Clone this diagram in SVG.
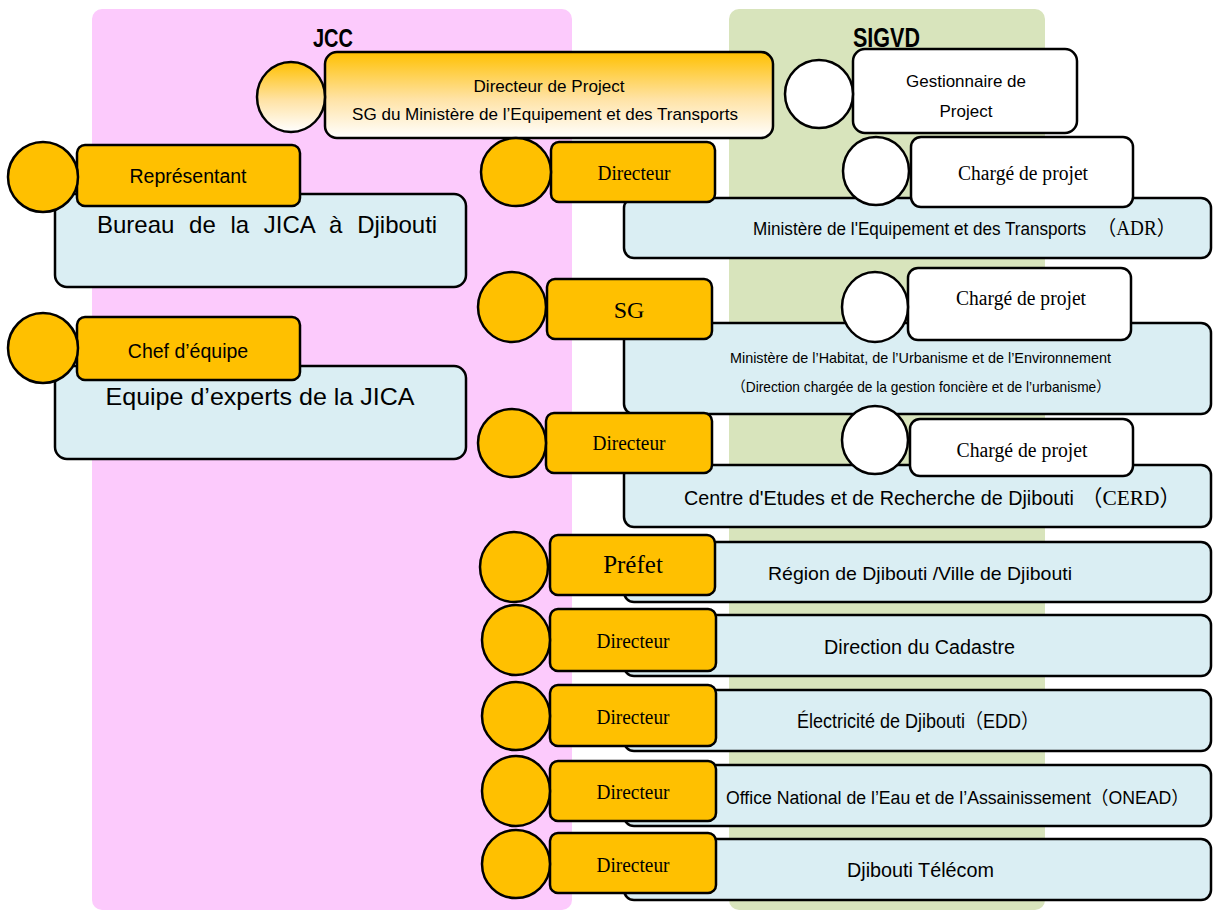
<svg xmlns="http://www.w3.org/2000/svg" width="1213" height="911" viewBox="0 0 1213 911">
<defs>
<linearGradient id="gradTop" x1="0" y1="0" x2="0" y2="1">
<stop offset="0" stop-color="#FFC000"/>
<stop offset="0.55" stop-color="#FFE3A6"/>
<stop offset="1" stop-color="#FFFFFF"/>
</linearGradient>
<style>
.ln{stroke:#000;stroke-width:2.5}
.or{fill:#FFC000}
.bl{fill:#DAEEF3}
.wh{fill:#FFFFFF}
.gr{fill:url(#gradTop)}
.sans{font-family:"Liberation Sans",Arial,"Noto Sans CJK JP",sans-serif;fill:#000}
.serif{font-family:"Liberation Serif","Times New Roman","Noto Sans CJK JP",serif;fill:#000}
.title{font-family:"Liberation Sans",Arial,sans-serif;font-weight:bold;fill:#000}
</style>
</defs>
<rect width="1213" height="911" fill="#FFFFFF"/>
<g id="panels">
<rect x="92" y="9" width="480" height="901" rx="10" fill="#FCCAFC"/>
<rect x="729" y="9" width="316" height="901" rx="10" fill="#D8E4BC"/>
<text class="title" x="313" y="47" font-size="26" textLength="40" lengthAdjust="spacingAndGlyphs">JCC</text>
<text class="title" x="853" y="47" font-size="27" textLength="67" lengthAdjust="spacingAndGlyphs">SIGVD</text>
</g>
<g id="directeur-project">
<rect class="ln gr" x="325" y="52" width="448" height="86" rx="12"/>
<ellipse class="ln gr" cx="291" cy="97" rx="34" ry="35"/>
<text class="sans" x="549" y="92" font-size="17" text-anchor="middle" textLength="151" lengthAdjust="spacingAndGlyphs">Directeur de Project</text>
<text class="sans" x="545" y="120" font-size="17" text-anchor="middle" textLength="386" lengthAdjust="spacingAndGlyphs">SG du Ministère de l’Equipement et des Transports</text>
</g>
<g id="gestionnaire">
<rect class="ln wh" x="853" y="49" width="224" height="84" rx="12"/>
<circle class="ln wh" cx="819" cy="94" r="34"/>
<text class="sans" x="966" y="87" font-size="17" text-anchor="middle">Gestionnaire de</text>
<text class="sans" x="966" y="117" font-size="17" text-anchor="middle">Project</text>
</g>
<g id="bureau-jica">
<rect class="ln bl" x="55" y="194" width="411" height="93" rx="12"/>
<rect class="ln or" x="77" y="145" width="223" height="61" rx="8"/>
<circle class="ln or" cx="43" cy="177" r="35"/>
<text class="sans" x="188" y="183" font-size="19.5" text-anchor="middle">Représentant</text>
<text class="sans" x="97" y="233" font-size="24" word-spacing="8">Bureau de la JICA à Djibouti</text>
</g>
<g id="equipe-jica">
<rect class="ln bl" x="55" y="366" width="411" height="93" rx="12"/>
<rect class="ln or" x="77" y="317" width="223" height="63" rx="8"/>
<circle class="ln or" cx="43" cy="348" r="35"/>
<text class="sans" x="188" y="358" font-size="19.5" text-anchor="middle">Chef d’équipe</text>
<text class="sans" x="260" y="405" font-size="24" text-anchor="middle" textLength="309" lengthAdjust="spacingAndGlyphs">Equipe d’experts de la JICA</text>
</g>
<g id="adr">
<rect class="ln bl" x="624" y="198" width="587" height="60" rx="10"/>
<rect class="ln or" x="551" y="142" width="164" height="60" rx="8"/>
<ellipse class="ln or" cx="516" cy="172" rx="35" ry="34"/>
<rect class="ln wh" x="911" y="137" width="222" height="70" rx="10"/>
<ellipse class="ln wh" cx="876" cy="171" rx="33" ry="34"/>
<text class="serif" x="634" y="180" font-size="20" text-anchor="middle" textLength="73" lengthAdjust="spacingAndGlyphs">Directeur</text>
<text class="serif" x="1023" y="180" font-size="20" text-anchor="middle" textLength="130" lengthAdjust="spacingAndGlyphs">Chargé de projet</text>
<text class="sans" x="753" y="235" font-size="17.5" textLength="333" lengthAdjust="spacingAndGlyphs">Ministère de l'Equipement et des Transports</text>
<text class="serif" x="1097" y="235" font-size="20" textLength="79" lengthAdjust="spacingAndGlyphs">（ADR）</text>
</g>
<g id="muhe">
<rect class="ln bl" x="624" y="323" width="587" height="91" rx="10"/>
<rect class="ln or" x="547" y="279" width="165" height="60" rx="8"/>
<ellipse class="ln or" cx="512" cy="307" rx="34" ry="35"/>
<rect class="ln wh" x="908" y="268" width="223" height="72" rx="10"/>
<ellipse class="ln wh" cx="875" cy="307" rx="33" ry="35"/>
<text class="serif" x="629" y="318" font-size="24" text-anchor="middle">SG</text>
<text class="serif" x="1021" y="305" font-size="20" text-anchor="middle" textLength="130" lengthAdjust="spacingAndGlyphs">Chargé de projet</text>
<text class="sans" x="730" y="363" font-size="14.5" textLength="381" lengthAdjust="spacingAndGlyphs">Ministère de l’Habitat, de l’Urbanisme et de l’Environnement</text>
<text class="sans" x="732" y="392" font-size="14.5" textLength="378" lengthAdjust="spacingAndGlyphs">（Direction chargée de la gestion foncière et de l’urbanisme）</text>
</g>
<g id="cerd">
<rect class="ln bl" x="624" y="465" width="587" height="62" rx="10"/>
<rect class="ln or" x="546" y="413" width="166" height="60" rx="8"/>
<ellipse class="ln or" cx="512" cy="443" rx="34" ry="34"/>
<rect class="ln wh" x="910" y="419" width="223" height="57" rx="10"/>
<ellipse class="ln wh" cx="875" cy="440" rx="33" ry="34"/>
<text class="serif" x="629" y="450" font-size="20" text-anchor="middle" textLength="73" lengthAdjust="spacingAndGlyphs">Directeur</text>
<text class="serif" x="1022" y="457" font-size="20" text-anchor="middle" textLength="131" lengthAdjust="spacingAndGlyphs">Chargé de projet</text>
<text class="sans" x="684" y="505" font-size="19.5" textLength="390" lengthAdjust="spacingAndGlyphs">Centre d'Etudes et de Recherche de Djibouti</text>
<text class="serif" x="1081" y="505" font-size="22" textLength="100" lengthAdjust="spacingAndGlyphs">（CERD）</text>
</g>
<g id="region">
<rect class="ln bl" x="624" y="542" width="587" height="60" rx="10"/>
<rect class="ln or" x="550" y="535" width="165" height="60" rx="8"/>
<ellipse class="ln or" cx="514" cy="567" rx="34" ry="35"/>
<text class="serif" x="633" y="573" font-size="25" text-anchor="middle">Préfet</text>
<text class="sans" x="768" y="580" font-size="19" textLength="304" lengthAdjust="spacingAndGlyphs">Région de Djibouti /Ville de Djibouti</text>
</g>
<g id="cadastre">
<rect class="ln bl" x="624" y="615" width="587" height="61" rx="10"/>
<rect class="ln or" x="550" y="609" width="166" height="62" rx="8"/>
<ellipse class="ln or" cx="516" cy="640" rx="34" ry="35"/>
<text class="serif" x="633" y="648" font-size="20" text-anchor="middle" textLength="73" lengthAdjust="spacingAndGlyphs">Directeur</text>
<text class="sans" x="824" y="654" font-size="20" textLength="191" lengthAdjust="spacingAndGlyphs">Direction du Cadastre</text>
</g>
<g id="edd">
<rect class="ln bl" x="624" y="690" width="587" height="61" rx="10"/>
<rect class="ln or" x="550" y="685" width="166" height="61" rx="8"/>
<ellipse class="ln or" cx="516" cy="716" rx="34" ry="34"/>
<text class="serif" x="633" y="724" font-size="20" text-anchor="middle" textLength="73" lengthAdjust="spacingAndGlyphs">Directeur</text>
<text class="sans" x="797" y="728" font-size="20" textLength="242" lengthAdjust="spacingAndGlyphs">Électricité de Djibouti（EDD）</text>
</g>
<g id="onead">
<rect class="ln bl" x="624" y="765" width="587" height="61" rx="10"/>
<rect class="ln or" x="550" y="761" width="166" height="60" rx="8"/>
<ellipse class="ln or" cx="516" cy="791" rx="34" ry="35"/>
<text class="serif" x="633" y="799" font-size="20" text-anchor="middle" textLength="73" lengthAdjust="spacingAndGlyphs">Directeur</text>
<text class="sans" x="726" y="804" font-size="18" textLength="463" lengthAdjust="spacingAndGlyphs">Office National de l’Eau et de l’Assainissement（ONEAD）</text>
</g>
<g id="telecom">
<rect class="ln bl" x="624" y="839" width="587" height="61" rx="10"/>
<rect class="ln or" x="550" y="833" width="166" height="60" rx="8"/>
<ellipse class="ln or" cx="516" cy="864" rx="34" ry="34"/>
<text class="serif" x="633" y="872" font-size="20" text-anchor="middle" textLength="73" lengthAdjust="spacingAndGlyphs">Directeur</text>
<text class="sans" x="847" y="877" font-size="20" textLength="147" lengthAdjust="spacingAndGlyphs">Djibouti Télécom</text>
</g>
</svg>
